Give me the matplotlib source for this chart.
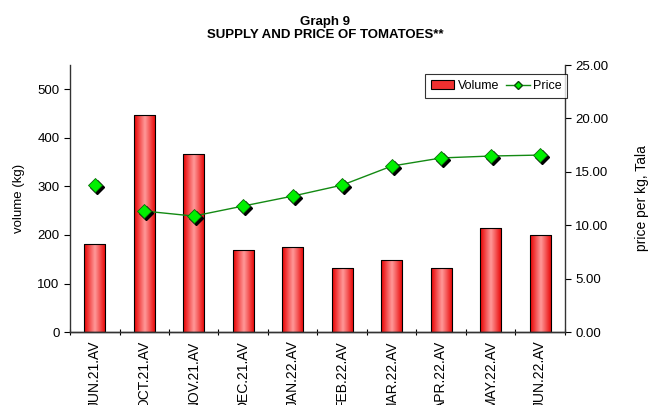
import numpy as np
import matplotlib.pyplot as plt
from matplotlib.colors import LinearSegmentedColormap
from matplotlib.transforms import ScaledTranslation
from matplotlib.ticker import FormatStrFormatter, FixedLocator, NullFormatter

plt.rcParams['font.family'] = ['Liberation Sans', 'DejaVu Sans']

months = ["JUN.21.AV", "OCT.21.AV", "NOV.21.AV", "DEC.21.AV", "JAN.22.AV",
          "FEB.22.AV", "MAR.22.AV", "APR.22.AV", "MAY.22.AV", "JUN.22.AV"]
volume = [181, 448, 366, 169, 175, 132, 148, 132, 214, 200]
price = [13.76, 11.33, 10.86, 11.80, 12.73, 13.76, 15.54, 16.30, 16.48, 16.57]

x = np.arange(len(months))

fig = plt.figure(figsize=(6.5, 4.05), dpi=100)
ax = fig.add_axes([0.1077, 0.180, 0.7615, 0.6595])
ax2 = ax.twinx()

bars = ax.bar(x, volume, width=0.43, color="#ff6a6a", edgecolor="black",
              linewidth=0.8, label="Volume", zorder=2)

# red gradient fill inside each bar, like the spreadsheet chart
cmap = LinearSegmentedColormap.from_list("bar", ["#e80000", "#ff9a9a", "#e80000"])
grad = np.linspace(0, 1, 64).reshape(1, -1)
for b in bars:
    x0, y0 = b.get_x(), b.get_y()
    im = ax.imshow(grad, cmap=cmap, aspect="auto", zorder=2.1,
                   extent=[x0, x0 + b.get_width(), y0, y0 + b.get_height()])
    im.set_clip_path(b)
    b.set_facecolor("none")
    b.set_zorder(2.2)
ax.set_aspect("auto")

# price line: no link between the first point and the rest
ax2.plot(x[1:], price[1:], color="#138a13", lw=1.0, zorder=3)
shadow = ScaledTranslation(1.5 / 72, -1.5 / 72, fig.dpi_scale_trans)
ax2.plot(x, price, ls="none", marker="D", ms=7, mfc="black", mec="black",
         zorder=3.5, transform=ax2.transData + shadow)
ax2.plot(x, price, ls="none", marker="D", ms=7, mfc="#00f000", mec="#0a6a0a",
         mew=0.6, zorder=4)
price_handle, = ax2.plot([], [], color="#138a13", lw=1.0, marker="D", ms=4,
                         mfc="#00f000", mec="#0a4a0a", label="Price")

ax.set_xlim(-0.5, len(months) - 0.5)
ax.set_ylim(0, 550)
ax.set_yticks(range(0, 501, 100))
ax2.set_ylim(0, 25)
ax2.set_yticks(np.arange(0, 25.1, 5))
ax2.yaxis.set_major_formatter(FormatStrFormatter("%.2f"))

ax.xaxis.set_major_locator(FixedLocator(np.arange(-0.5, len(months), 1)))
ax.xaxis.set_major_formatter(NullFormatter())
ax.xaxis.set_minor_locator(FixedLocator(x))
ax.set_xticklabels(months, minor=True, rotation=90, fontsize=10, va="top", ha="center")
ax.tick_params(axis="x", which="minor", length=0, pad=6)
ax.tick_params(axis="x", which="major", length=5, direction="inout", width=0.8)
ax.tick_params(axis="y", length=4, direction="out", labelsize=9.5, width=0.8)
ax2.tick_params(axis="y", length=4, direction="out", labelsize=9.5, width=0.8)

ax.spines["top"].set_visible(False)
ax2.spines["top"].set_visible(False)
ax.spines["right"].set_visible(False)
ax2.spines["left"].set_visible(False)
for a in (ax, ax2):
    for s in a.spines.values():
        s.set_color("#333333")
        s.set_linewidth(1.0)

ax.set_ylabel("volume (kg)", fontsize=9.5, labelpad=9)
ax2.set_ylabel("price per kg, Tala", fontsize=10, labelpad=19)

leg = ax2.legend([bars, price_handle], ["Volume", "Price"], loc="upper right",
                 bbox_to_anchor=(1.005, 0.965), fontsize=9, frameon=True, fancybox=False,
                 edgecolor="black", handlelength=1.9, handletextpad=0.25,
                 borderpad=0.45, ncol=2, columnspacing=0.6, borderaxespad=0.0)
leg.get_frame().set_linewidth(0.8)
leg.legend_handles[0].set_facecolor("#f03030")

fig.text(0.5, 0.93, "Graph 9\nSUPPLY AND PRICE OF TOMATOES**", ha="center",
         va="center", fontsize=9.5, fontweight="bold", linespacing=1.15)

fig.savefig("out.png", dpi=100)
